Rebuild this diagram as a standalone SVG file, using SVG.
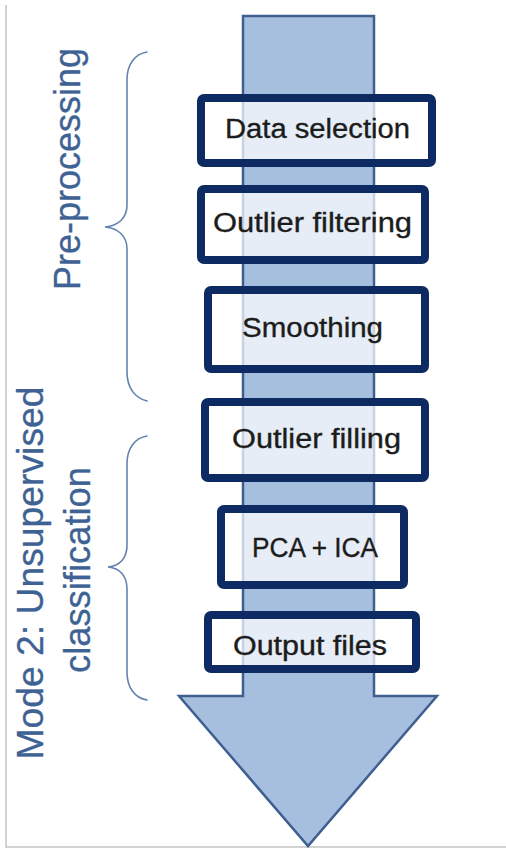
<svg xmlns="http://www.w3.org/2000/svg" width="506" height="849" viewBox="0 0 506 849">
  <style>
    .frame { stroke: #c4c4c4; stroke-width: 1.5; fill: none; }
    .arrow { fill: #a7bfdf; stroke: #3e5f8f; stroke-width: 2.5; stroke-linejoin: miter; }
    .box { fill: #ffffff; fill-opacity: 0.72; stroke: #0d2a62; stroke-width: 8; }
    .step { font-family: "Liberation Sans", Arial, sans-serif; font-size: 27px; fill: #1c1c1c; stroke: #1c1c1c; stroke-width: 0.35; text-anchor: middle; }
    .brace { fill: none; stroke: #6483b0; stroke-width: 1.6; stroke-linecap: round; }
    .phase { font-family: "Liberation Sans", Arial, sans-serif; font-size: 36px; fill: #3d6293; stroke: #3d6293; stroke-width: 0.3; text-anchor: middle; }
  </style>

  <rect width="506" height="849" fill="#ffffff"/>

  <!-- frame edges -->
  <path class="frame" d="M6,5 V847 H506"/>

  <!-- flow arrow -->
  <g id="flow-arrow">
    <path class="arrow" d="M243,16 H374 V696 H437 L308,846 L179,696 H243 Z"/>
  </g>

  <!-- phase braces -->
  <g id="connectors">
    <path class="brace" d="M147,52 C135,54 127,64 127,80 V205 C127,218 118,226 105,227 C118,228 127,236 127,249 V372 C127,388 135,398 147,401"/>
    <path class="brace" d="M147,436 C135,438 127,448 127,464 V545 C127,558 120,566 108,567 C120,568 127,576 127,589 V672 C127,688 135,698 147,700"/>
  </g>

  <!-- phase labels -->
  <g id="label-preprocessing">
    <text class="phase" x="80" y="169" transform="rotate(-90 80 169)" textLength="242" lengthAdjust="spacingAndGlyphs">Pre-processing</text>
  </g>
  <g id="label-mode2">
    <text class="phase" x="43" y="573" transform="rotate(-90 43 573)" textLength="373" lengthAdjust="spacingAndGlyphs">Mode 2: Unsupervised</text>
    <text class="phase" x="90" y="570" transform="rotate(-90 90 570)" textLength="206" lengthAdjust="spacingAndGlyphs">classification</text>
  </g>

  <!-- processing steps -->
  <g id="step-data-selection">
    <rect class="box" x="201" y="98" width="231" height="65" rx="3"/>
    <text class="step" x="317.5" y="138" textLength="185" lengthAdjust="spacingAndGlyphs">Data selection</text>
  </g>
  <g id="step-outlier-filtering">
    <rect class="box" x="201" y="189" width="224" height="71" rx="3"/>
    <text class="step" x="312.5" y="232" textLength="199" lengthAdjust="spacingAndGlyphs">Outlier filtering</text>
  </g>
  <g id="step-smoothing">
    <rect class="box" x="208" y="290" width="217" height="79" rx="3"/>
    <text class="step" x="312.5" y="337" textLength="141" lengthAdjust="spacingAndGlyphs">Smoothing</text>
  </g>
  <g id="step-outlier-filling">
    <rect class="box" x="205" y="402" width="220" height="76" rx="3"/>
    <text class="step" x="316.5" y="448" textLength="169" lengthAdjust="spacingAndGlyphs">Outlier filling</text>
  </g>
  <g id="step-pca-ica">
    <rect class="box" x="221" y="509" width="183" height="76" rx="3"/>
    <text class="step" x="315" y="557" textLength="126" lengthAdjust="spacingAndGlyphs">PCA + ICA</text>
  </g>
  <g id="step-output-files">
    <rect class="box" x="208" y="615" width="208" height="54" rx="3"/>
    <text class="step" x="310" y="655" textLength="154" lengthAdjust="spacingAndGlyphs">Output files</text>
  </g>
</svg>
